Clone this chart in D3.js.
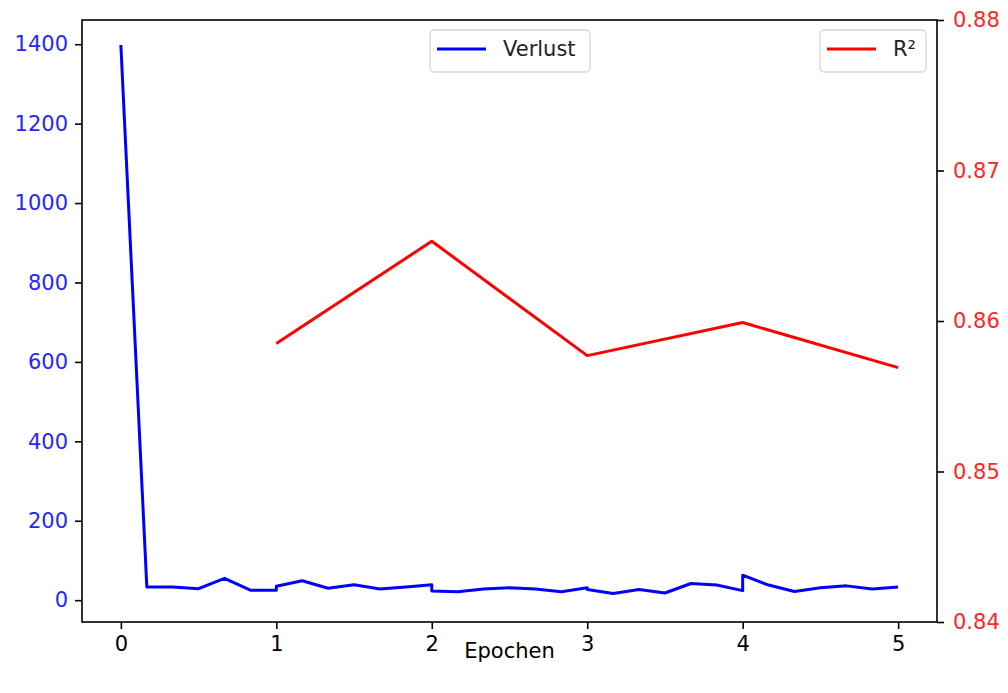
<!DOCTYPE html>
<html>
<head>
<meta charset="utf-8">
<script src="https://cdn.jsdelivr.net/npm/d3@7"></script>
<style>
  body { margin: 0; background: #fff; }
  svg text { font-family: "DejaVu Sans", sans-serif; }
</style>
</head>
<body>
<div id="chart"></div>
<script>
// Verlust (loss) per step, x in epochs
const lossEpochs = [0, 0.167, 0.333, 0.5, 0.667, 0.833, 1.0, 1.0, 1.167, 1.333, 1.5, 1.667, 1.833, 2.0, 2.0,
  2.167, 2.333, 2.5, 2.667, 2.833, 3.0, 3.0, 3.167, 3.333, 3.5, 3.667, 3.833, 4.0, 4.0,
  4.167, 4.333, 4.5, 4.667, 4.833, 5.0];
const lossValues = [1398, 33, 33, 29, 55, 25, 25, 35, 49, 30, 39, 28, 33, 39, 23,
  21, 28, 31, 28, 21, 31, 27, 17, 27, 18, 42, 38, 24, 63,
  38, 22, 31, 36, 28, 33];

// R² per epoch
const r2Epochs = [1, 2, 3, 4, 5];
const r2Values = [0.8585, 0.8653, 0.8577, 0.8599, 0.8569];

const xTicks = [0, 1, 2, 3, 4, 5];
const lossTicks = [0, 200, 400, 600, 800, 1000, 1200, 1400];
const r2Ticks = [0.84, 0.85, 0.86, 0.87, 0.88];

const width = 1008, height = 693;
const margin = {top: 20, right: 71, bottom: 71, left: 82};
const fontSize = 21;

const svg = d3.select("#chart").append("svg")
    .attr("width", width)
    .attr("height", height);

// scales
let x = d3.scaleLinear().domain([-0.25, 5.25]).range([margin.left, width - margin.right]);
let yLoss = d3.scaleLinear().domain([-55, 1461]).range([height - margin.bottom, margin.top]);
let yR2 = d3.scaleLinear().domain([0.84, 0.88]).range([height - margin.bottom, margin.top]);

// axes
function styleAxis(g, color) {
    g.select(".domain").remove();
    g.selectAll(".tick line").attr("stroke", "#000").attr("stroke-width", 1.6);
    g.selectAll(".tick text").attr("fill", color).style("font-size", fontSize + "px");
}

svg.append("g")
    .attr("transform", "translate(0," + (height - margin.bottom) + ")")
    .call(d3.axisBottom(x).tickValues(xTicks).tickFormat(d3.format("d")).tickSize(7).tickPadding(7))
    .call(g => styleAxis(g, "#000"));

svg.append("g")
    .attr("transform", "translate(" + margin.left + ",0)")
    .call(d3.axisLeft(yLoss).tickValues(lossTicks).tickFormat(d3.format("d")).tickSize(7).tickPadding(7))
    .call(g => styleAxis(g, "#2626ff"));

svg.append("g")
    .attr("transform", "translate(" + (width - margin.right) + ",0)")
    .call(d3.axisRight(yR2).tickValues(r2Ticks).tickFormat(d3.format(".2f")).tickSize(7).tickPadding(9))
    .call(g => styleAxis(g, "#ff2626"));

// x label
svg.append("text")
    .attr("x", (margin.left + width - margin.right) / 2)
    .attr("y", 658)
    .attr("text-anchor", "middle")
    .style("font-size", fontSize + "px")
    .text("Epochen");

// lines
const lossLine = d3.line()
    .x(function(d, i) { return x(lossEpochs[i]); })
    .y(function(d) { return yLoss(d); });

svg.append("path")
    .datum(lossValues)
    .attr("fill", "none")
    .attr("stroke", "blue")
    .attr("stroke-width", 3)
    .attr("stroke-linejoin", "round")
    .attr("d", lossLine);

const r2Line = d3.line()
    .x(function(d, i) { return x(r2Epochs[i]); })
    .y(function(d) { return yR2(d); });

svg.append("path")
    .datum(r2Values)
    .attr("fill", "none")
    .attr("stroke", "red")
    .attr("stroke-width", 3)
    .attr("stroke-linejoin", "round")
    .attr("d", r2Line);

// frame
svg.append("rect")
    .attr("x", margin.left)
    .attr("y", margin.top)
    .attr("width", width - margin.left - margin.right)
    .attr("height", height - margin.top - margin.bottom)
    .attr("fill", "none")
    .attr("stroke", "#000")
    .attr("stroke-width", 1.6);

// legends
function legend(x0, w, color, label) {
    let g = svg.append("g").attr("transform", "translate(" + x0 + ",30)");
    g.append("rect")
        .attr("width", w).attr("height", 42)
        .attr("rx", 4)
        .attr("fill", "#fff").attr("fill-opacity", 0.8)
        .attr("stroke", "#d6d6d6").attr("stroke-width", 1.3);
    g.append("line")
        .attr("x1", 7).attr("x2", 56).attr("y1", 19).attr("y2", 19)
        .attr("stroke", color).attr("stroke-width", 3);
    g.append("text")
        .attr("x", 73).attr("y", 26)
        .style("font-size", fontSize + "px")
        .attr("fill", "#222")
        .text(label);
}
legend(430, 160, "blue", "Verlust");
legend(820, 106, "red", "R²");
</script>
</body>
</html>
